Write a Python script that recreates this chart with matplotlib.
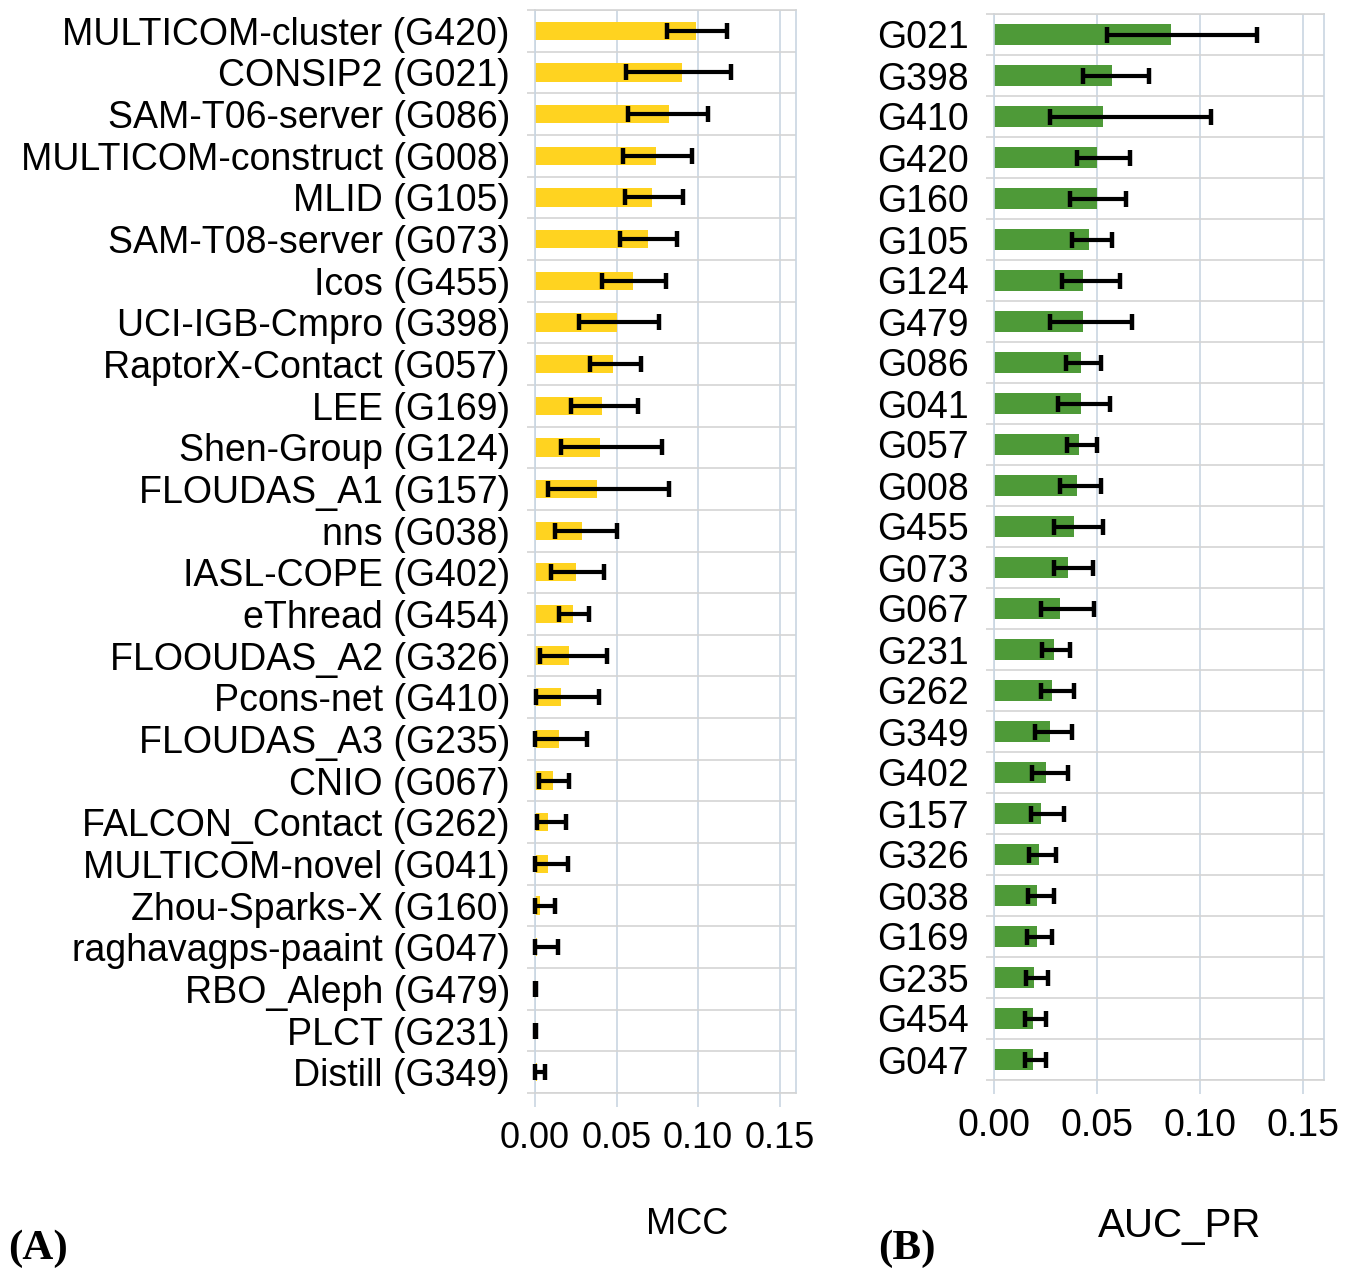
import matplotlib
matplotlib.use("Agg")
import matplotlib.pyplot as plt
from matplotlib import font_manager
import numpy as np

# panel A: MCC per server
mcc_labels = ["MULTICOM-cluster (G420)", "CONSIP2 (G021)", "SAM-T06-server (G086)",
              "MULTICOM-construct (G008)", "MLID (G105)", "SAM-T08-server (G073)",
              "Icos (G455)", "UCI-IGB-Cmpro (G398)", "RaptorX-Contact (G057)",
              "LEE (G169)", "Shen-Group (G124)", "FLOUDAS_A1 (G157)", "nns (G038)",
              "IASL-COPE (G402)", "eThread (G454)", "FLOOUDAS_A2 (G326)",
              "Pcons-net (G410)", "FLOUDAS_A3 (G235)", "CNIO (G067)",
              "FALCON_Contact (G262)", "MULTICOM-novel (G041)", "Zhou-Sparks-X (G160)",
              "raghavagps-paaint (G047)", "RBO_Aleph (G479)", "PLCT (G231)",
              "Distill (G349)"]
mcc = [0.099, 0.090, 0.082, 0.074, 0.072, 0.069, 0.060, 0.050, 0.048, 0.041,
       0.040, 0.038, 0.029, 0.025, 0.023, 0.021, 0.016, 0.015, 0.011, 0.008,
       0.008, 0.003, 0.0014, 0.0004, 0.0004, 0.001]
mcc_lo = [0.081, 0.056, 0.057, 0.054, 0.055, 0.052, 0.041, 0.027, 0.034, 0.022,
          0.016, 0.008, 0.012, 0.010, 0.015, 0.003, 0.0005, 0.0, 0.0024, 0.0014,
          0.0, 0.0, 0.0, 0.0, 0.0, 0.0]
mcc_hi = [0.118, 0.120, 0.106, 0.096, 0.091, 0.087, 0.080, 0.076, 0.065, 0.063,
          0.078, 0.082, 0.050, 0.042, 0.033, 0.044, 0.039, 0.032, 0.021, 0.019,
          0.020, 0.012, 0.014, 0.0008, 0.0008, 0.006]

# panel B: AUC_PR per group
auc_labels = ["G021", "G398", "G410", "G420", "G160", "G105", "G124", "G479", "G086",
              "G041", "G057", "G008", "G455", "G073", "G067", "G231", "G262", "G349",
              "G402", "G157", "G326", "G038", "G169", "G235", "G454", "G047"]
auc = [0.086, 0.057, 0.053, 0.050, 0.050, 0.046, 0.043, 0.043, 0.042, 0.042,
       0.041, 0.040, 0.039, 0.036, 0.032, 0.029, 0.028, 0.027, 0.025, 0.023,
       0.022, 0.021, 0.021, 0.0195, 0.019, 0.019]
auc_lo = [0.055, 0.043, 0.027, 0.040, 0.037, 0.038, 0.033, 0.027, 0.035, 0.031,
          0.0355, 0.032, 0.029, 0.029, 0.023, 0.0235, 0.023, 0.020, 0.0185, 0.018,
          0.017, 0.0166, 0.016, 0.0155, 0.015, 0.015]
auc_hi = [0.1275, 0.075, 0.105, 0.066, 0.064, 0.057, 0.061, 0.067, 0.052, 0.056,
          0.050, 0.052, 0.053, 0.048, 0.0485, 0.037, 0.039, 0.038, 0.036, 0.034,
          0.030, 0.029, 0.028, 0.026, 0.025, 0.025]

xticks = [0.0, 0.05, 0.10, 0.15]

installed = {f.name for f in font_manager.fontManager.ttflist}
narrow = "Liberation Sans Narrow" if "Liberation Sans Narrow" in installed else "Liberation Sans"
plt.rcParams["font.family"] = ["Liberation Sans", "DejaVu Sans"]

VGRID = "#c9d6e2"
HGRID = "#d4d4d4"

fig = plt.figure(figsize=(13.57, 12.71), dpi=100)
W, H = 1357, 1271


def panel(rect_px, labels, vals, lo, hi, color, bar_h, lab_pad, tick_font, tick_size, tick_pad):
    x0, y0, x1, y1 = rect_px
    ax = fig.add_axes([x0 / W, 1 - y1 / H, (x1 - x0) / W, (y1 - y0) / H])
    n = len(labels)
    y = np.arange(n)
    vals = np.array(vals)
    err = [vals - np.array(lo), np.array(hi) - vals]
    ax.barh(y, vals, height=bar_h, color=color, zorder=2)
    ax.errorbar(vals, y, xerr=err, fmt="none", ecolor="black", elinewidth=3,
                capsize=6, capthick=3.2, zorder=3, clip_on=False)
    ax.set_xlim(0, 0.16)
    ax.set_ylim(n - 0.5, -0.5)
    ax.set_yticks(y)
    ax.set_yticklabels(labels, fontsize=27)
    ax.set_yticks(np.arange(n + 1) - 0.5, minor=True)
    ax.tick_params(axis="y", which="major", length=0, pad=lab_pad)
    ax.tick_params(axis="y", which="minor", length=6, color=HGRID, width=1.2)
    ax.grid(axis="y", which="minor", color=HGRID, lw=1.2, zorder=0)
    ax.set_xticks(xticks)
    ax.set_xticklabels([f"{t:.2f}" for t in xticks], fontsize=tick_size, family=tick_font)
    ax.tick_params(axis="x", length=10, color=VGRID, width=1.2, pad=tick_pad)
    ax.grid(axis="x", which="major", color=VGRID, lw=1.2, zorder=0)
    for s in ax.spines.values():
        s.set_color(VGRID)
        s.set_linewidth(1.2)
    ax.spines["bottom"].set_color(HGRID)
    ax.spines["top"].set_color(HGRID)
    return ax


axA = panel((535, 10, 796, 1093), mcc_labels, mcc, mcc_lo, mcc_hi, "#FFD320", 0.44,
            18, narrow, 26, 10)
axB = panel((994, 14, 1324, 1080), auc_labels, auc, auc_lo, auc_hi, "#4e9a38", 0.49,
            18, "Liberation Sans", 27, 10)

fig.text(687 / W, 1 - 1225 / H, "MCC", fontsize=26, family=narrow, ha="center", va="center")
fig.text(1180 / W, 1 - 1226 / H, "AUC_PR", fontsize=29, ha="center", va="center")
fig.text(8 / W, 1 - 1249 / H, "(A)", fontsize=31, family="Liberation Serif",
         weight="bold", ha="left", va="center")
fig.text(878 / W, 1 - 1249 / H, "(B)", fontsize=31, family="Liberation Serif",
         weight="bold", ha="left", va="center")

fig.savefig("out.png", dpi=100)
